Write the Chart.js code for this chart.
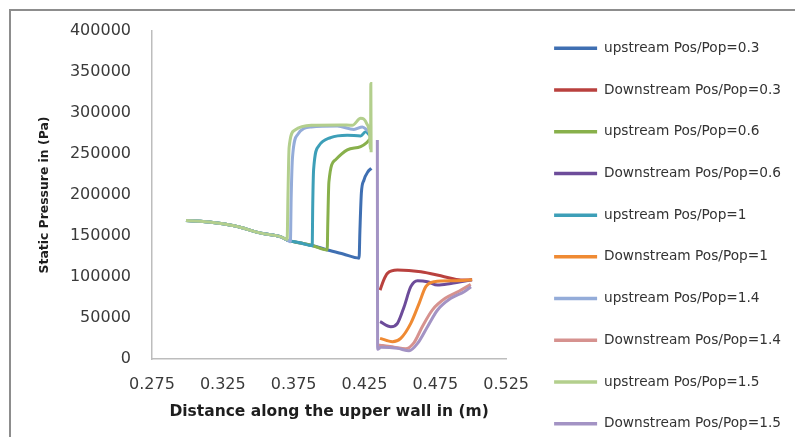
<!DOCTYPE html>
<html>
<head>
<meta charset="utf-8">
<script src="https://cdn.jsdelivr.net/npm/chart.js@4.4.1/dist/chart.umd.min.js"></script>
<style>
  html, body { margin: 0; padding: 0; background: #fff; overflow: hidden; width: 795px; height: 437px; }
  #frame { position: absolute; left: 9px; top: 9px; width: 820px; height: 460px; border: 2px solid #8d8d8d; }
  #chart { position: absolute; left: 0; top: 0; }
</style>
</head>
<body>
<div id="frame"></div>
<canvas id="chart" width="795" height="480"></canvas>
<script>
// axis ticks
const xTicks = [0.275, 0.325, 0.375, 0.425, 0.475, 0.525];

const seriesNames = [
    'upstream Pos/Pop=0.3', 'Downstream Pos/Pop=0.3',
    'upstream Pos/Pop=0.6', 'Downstream Pos/Pop=0.6',
    'upstream Pos/Pop=1', 'Downstream Pos/Pop=1',
    'upstream Pos/Pop=1.4', 'Downstream Pos/Pop=1.4',
    'upstream Pos/Pop=1.5', 'Downstream Pos/Pop=1.5'
];
const seriesColors = [
    '#3f6fb2', '#b9413e', '#88b04b', '#6d4c9a', '#3d9fb8',
    '#ef8a33', '#94acd9', '#d6928f', '#b3cf8d', '#a393c4'
];

// upstream Pos/Pop=0.3
const xUp03 = [0.299, 0.318, 0.333, 0.352, 0.366, 0.3705, 0.380, 0.388, 0.399, 0.410, 0.4212, 0.4218, 0.4228, 0.4246, 0.4275, 0.4299];
const yUp03 = [169000, 166500, 162500, 153500, 149000, 145000, 141500, 138500, 133000, 128000, 123000, 157000, 202000, 218000, 228500, 232500];

// Downstream Pos/Pop=0.3
const xDown03 = [0.4360, 0.4385, 0.4412, 0.4483, 0.4648, 0.4813, 0.4931, 0.5010];
const yDown03 = [84000, 96000, 104500, 108500, 106400, 100400, 96300, 96500];

// upstream Pos/Pop=0.6
const xUp06 = [0.299, 0.318, 0.333, 0.352, 0.366, 0.3705, 0.380, 0.388, 0.3987, 0.3991, 0.3999, 0.4046, 0.4129, 0.4223, 0.4266, 0.4287];
const yUp06 = [169000, 166500, 162500, 153500, 149000, 145000, 141500, 138500, 133000, 165000, 216000, 243000, 255000, 259000, 264000, 268000];

// Downstream Pos/Pop=0.6
const xDown06 = [0.4360, 0.4436, 0.4483, 0.4530, 0.4577, 0.4625, 0.4695, 0.4766, 0.4860, 0.5010];
const yDown06 = [45500, 39400, 43500, 63800, 88200, 95500, 94300, 90200, 92200, 96500];

// upstream Pos/Pop=1
const xUp1 = [0.299, 0.318, 0.333, 0.352, 0.366, 0.3705, 0.380, 0.3881, 0.3885, 0.3891, 0.3928, 0.4011, 0.4129, 0.4223, 0.4258, 0.4286];
const yUp1 = [169000, 166500, 162500, 153500, 149000, 145000, 141500, 138200, 190000, 231000, 260000, 270000, 273000, 272000, 277000, 273000];

// Downstream Pos/Pop=1
const xDown1 = [0.4360, 0.4448, 0.4506, 0.4577, 0.4636, 0.4683, 0.4742, 0.4884, 0.5010];
const yDown1 = [25200, 21100, 25200, 43500, 67900, 88200, 94300, 95500, 96500];

// upstream Pos/Pop=1.4
const xUp14 = [0.299, 0.318, 0.333, 0.352, 0.366, 0.3705, 0.3727, 0.3733, 0.3742, 0.3780, 0.3875, 0.4058, 0.4176, 0.4235, 0.4270, 0.4289];
const yUp14 = [169000, 166500, 162500, 153500, 149000, 145000, 143000, 200000, 246000, 274000, 283000, 284000, 280000, 283000, 279000, 276000];

// Downstream Pos/Pop=1.4
const xDown14 = [0.4345, 0.4380, 0.4459, 0.4540, 0.4600, 0.4660, 0.4730, 0.4820, 0.4920, 0.5000];
const yDown14 = [17000, 16500, 14500, 12500, 20000, 40000, 60000, 74000, 83000, 91000];

// upstream Pos/Pop=1.5
const xUp15 = [0.299, 0.318, 0.333, 0.352, 0.366, 0.3704, 0.3710, 0.3718, 0.3757, 0.3875, 0.4081, 0.4164, 0.4223, 0.4246, 0.4266, 0.4285, 0.4293, 0.4295, 0.4297];
const yUp15 = [169000, 166500, 162500, 153500, 149000, 146000, 200000, 258000, 279000, 285000, 285500, 285000, 293500, 292500, 287000, 276000, 256000, 336000, 252000];

// Downstream Pos/Pop=1.5
const xDown15 = [0.4341, 0.4343, 0.4365, 0.4483, 0.4565, 0.4625, 0.4695, 0.4766, 0.4860, 0.4954, 0.5002];
const yDown15 = [267000, 12000, 14200, 13000, 10100, 19000, 39400, 59800, 74000, 82100, 88000];

const xSeries = [xUp03, xDown03, xUp06, xDown06, xUp1, xDown1, xUp14, xDown14, xUp15, xDown15];
const ySeries = [yUp03, yDown03, yUp06, yDown06, yUp1, yDown1, yUp14, yDown14, yUp15, yDown15];

const datasets = seriesNames.map((name, i) => ({
    label: name,
    data: xSeries[i].map((x, k) => ({ x: x, y: ySeries[i][k] })),
    borderColor: seriesColors[i],
    backgroundColor: seriesColors[i],
    borderWidth: 3,
    pointRadius: 0,
    cubicInterpolationMode: 'monotone',
    order: seriesNames.length - i   // last series drawn on top, like the original
}));

const tickFont = { family: 'DejaVu Sans', size: 16 };

new Chart(document.getElementById('chart').getContext('2d'), {
    type: 'line',
    data: { datasets: datasets },
    options: {
        responsive: false,
        animation: false,
        layout: { padding: { top: 13.5, right: 4, bottom: 0, left: 0 } },
        plugins: {
            tooltip: { enabled: false },
            // empty title only reserves room above the plot area
            title: { display: true, text: ' ', fullSize: false, padding: 0, font: { size: 10, lineHeight: 1.75 } },
            legend: {
                position: 'right',
                align: 'start',
                maxWidth: 400,
                labels: {
                    boxWidth: 43,
                    boxHeight: 3.5,
                    padding: 28,
                    color: '#333',
                    font: { family: 'DejaVu Sans', size: 13.7 },
                    sort: (a, b) => a.datasetIndex - b.datasetIndex,
                    generateLabels: chart => Chart.defaults.plugins.legend.labels.generateLabels(chart).map(item => {
                        item.lineWidth = 0;
                        item.fillStyle = item.strokeStyle;
                        return item;
                    })
                }
            }
        },
        scales: {
            x: {
                type: 'linear',
                min: 0.275,
                max: 0.525,
                afterBuildTicks: scale => { scale.ticks = xTicks.map(v => ({ value: v })); },
                afterFit: scale => { scale.height = 121; },
                grid: { display: false, drawTicks: false },
                border: { display: true, color: '#bdbdbd', width: 1.5 },
                ticks: { padding: 16, color: '#3a3a3a', font: tickFont, maxRotation: 0, callback: v => v.toFixed(3) },
                title: {
                    display: true,
                    text: 'Distance along the upper wall in (m)',
                    color: '#1e1e1e',
                    font: { family: 'DejaVu Sans', size: 15.5, weight: 'bold' },
                    padding: { top: 0, bottom: 58.7 }
                }
            },
            y: {
                type: 'linear',
                min: 0,
                max: 400000,
                afterFit: scale => { scale.width = 152; },
                grid: { display: false, drawTicks: false },
                border: { display: true, color: '#bdbdbd', width: 1.5 },
                ticks: { stepSize: 50000, padding: 21, color: '#3a3a3a', font: tickFont, callback: v => String(v) },
                title: {
                    display: true,
                    text: 'Static Pressure in (Pa)',
                    color: '#1e1e1e',
                    font: { family: 'DejaVu Sans', size: 12.4, weight: 'bold' },
                    padding: { top: 37.5, bottom: 0 }
                }
            },
            // spacer between plot and legend
            gap: {
                type: 'linear',
                position: 'right',
                display: true,
                grid: { display: false, drawTicks: false },
                border: { display: false },
                ticks: { display: false },
                afterFit: scale => { scale.width = 20; }
            }
        }
    }
});
</script>
</body>
</html>
